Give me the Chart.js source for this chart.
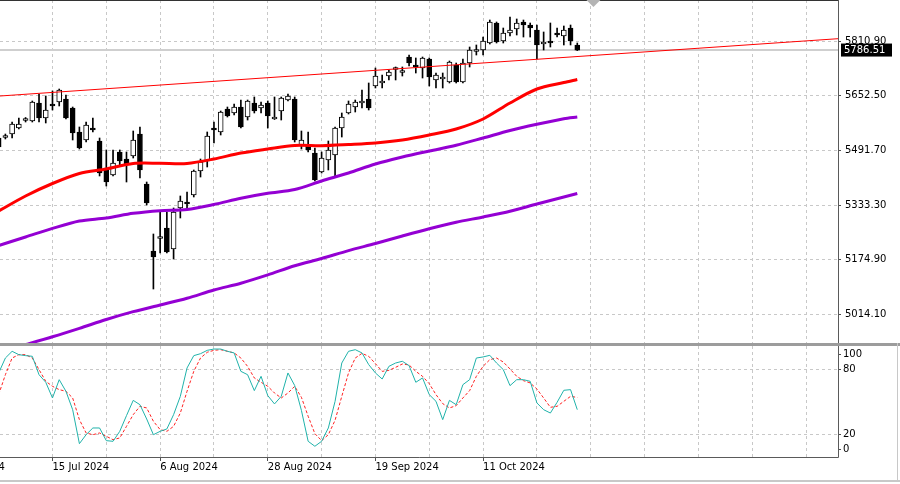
<!DOCTYPE html>
<html>
<head>
<meta charset="utf-8">
<title>US500 Daily</title>
<script src="https://cdn.jsdelivr.net/npm/chart.js@4.4.1/dist/chart.umd.min.js"></script>
<style>
  html, body { margin: 0; padding: 0; background: #fff; }
  body { width: 900px; height: 484px; position: relative; overflow: hidden; }
  #main { position: absolute; left: 0; top: 0; }
  #sep { position: absolute; left: 0; top: 343px; width: 900px; height: 3px; background: #9c9c9c; }
  #stoch { position: absolute; left: 0; top: 346px; }
  #winBottom { position: absolute; left: 0; top: 480px; width: 900px; height: 2px; background: #c8c8c8; }
  #winRight { position: absolute; left: 897px; top: 343px; width: 1px; height: 139px; background: #c8c8c8; }
</style>
</head>
<body>
<canvas id="main" width="900" height="343"></canvas>
<div id="sep"></div>
<canvas id="stoch" width="900" height="138"></canvas>
<div id="winBottom"></div>
<div id="winRight"></div>

<script>
// daily bars, first visible bar is index -1 (15 Jul 2024 = bar 7)
const firstBar = -1

const opens = [5529.4, 5530.9, 5541.1, 5558.7, 5580.6, 5579.1, 5631.7, 5587.9, 5628.8, 5634.7,
  5643.4, 5617.1, 5547.0, 5523.6, 5558.7, 5520.6, 5441.7, 5421.3, 5488.5, 5468.0,
  5476.8, 5541.1, 5395.0, 5199.1, 5235.7, 5266.4, 5204.9, 5324.8, 5342.4, 5362.8,
  5433.0, 5462.2, 5558.7, 5547.0, 5614.2, 5602.5, 5620.0, 5590.8, 5631.7, 5617.1,
  5631.7, 5585.0, 5608.3, 5640.5, 5643.4, 5506.0, 5508.9, 5485.6, 5430.0, 5465.1,
  5479.7, 5558.7, 5602.5, 5620.0, 5631.7, 5643.4, 5681.4, 5690.2, 5710.6, 5729.6,
  5720.9, 5766.2, 5742.8, 5734.0, 5760.3, 5699.0, 5701.9, 5693.1, 5742.8, 5693.1,
  5748.6, 5782.3, 5786.7, 5807.1, 5865.6, 5812.9, 5836.3, 5848.0, 5868.5, 5859.7,
  5845.1, 5804.2, 5812.9, 5836.3, 5827.6, 5851.0, 5801.3]
const highs = [5538.2, 5541.1, 5576.2, 5587.9, 5589.3, 5637.6, 5658.0, 5652.2, 5666.8, 5672.6,
  5655.1, 5620.0, 5561.6, 5576.2, 5587.9, 5529.4, 5494.4, 5494.4, 5494.4, 5488.5,
  5549.9, 5561.6, 5400.8, 5248.8, 5313.1, 5313.1, 5324.8, 5359.9, 5371.6, 5435.9,
  5468.0, 5547.0, 5576.2, 5608.3, 5620.0, 5628.8, 5640.5, 5640.5, 5649.3, 5634.7,
  5637.6, 5649.3, 5649.3, 5658.0, 5649.3, 5549.9, 5547.0, 5500.2, 5488.5, 5520.6,
  5561.6, 5602.5, 5637.6, 5640.5, 5669.7, 5690.2, 5734.0, 5713.6, 5728.2, 5737.0,
  5737.0, 5772.0, 5763.3, 5766.2, 5763.3, 5719.4, 5719.4, 5754.5, 5748.6, 5760.3,
  5795.4, 5801.3, 5824.6, 5874.3, 5868.5, 5850.9, 5883.1, 5877.3, 5874.3, 5865.6,
  5859.7, 5839.3, 5865.6, 5850.9, 5856.8, 5859.7, 5807.1]
const lows = [5497.3, 5526.5, 5529.4, 5556.0, 5576.2, 5576.2, 5576.2, 5573.3, 5611.3, 5623.0,
  5585.0, 5523.6, 5497.3, 5517.7, 5547.0, 5418.4, 5389.1, 5418.4, 5450.5, 5400.8,
  5470.9, 5412.5, 5333.6, 5088.0, 5193.3, 5193.3, 5175.7, 5295.6, 5321.9, 5357.0,
  5415.4, 5444.7, 5514.8, 5538.2, 5590.8, 5596.7, 5558.7, 5582.0, 5602.5, 5602.5,
  5558.7, 5583.5, 5582.0, 5637.6, 5517.7, 5497.3, 5488.5, 5403.7, 5427.1, 5435.9,
  5415.4, 5532.3, 5599.6, 5605.4, 5617.1, 5611.3, 5675.6, 5675.6, 5699.0, 5699.0,
  5710.6, 5739.9, 5719.4, 5704.8, 5681.4, 5675.6, 5675.6, 5690.2, 5690.2, 5690.2,
  5737.0, 5772.0, 5772.0, 5804.2, 5807.1, 5807.1, 5827.6, 5830.5, 5824.6, 5824.6,
  5760.3, 5786.7, 5795.4, 5824.6, 5801.3, 5801.3, 5785.0]
const closes = [5503.1, 5535.3, 5570.3, 5570.3, 5583.5, 5634.7, 5587.9, 5611.3, 5623.0, 5669.7,
  5587.9, 5544.0, 5500.2, 5567.4, 5552.8, 5427.1, 5400.8, 5456.4, 5462.2, 5450.5,
  5523.6, 5435.9, 5339.4, 5181.6, 5238.6, 5196.2, 5313.1, 5345.3, 5336.5, 5433.0,
  5459.3, 5535.3, 5552.8, 5605.4, 5593.7, 5620.0, 5561.6, 5637.6, 5608.3, 5625.9,
  5593.7, 5590.8, 5646.3, 5652.2, 5523.6, 5523.6, 5494.4, 5406.7, 5470.9, 5494.4,
  5558.7, 5590.8, 5628.8, 5634.7, 5634.7, 5617.1, 5710.6, 5696.0, 5722.3, 5732.6,
  5723.8, 5748.6, 5737.0, 5763.3, 5707.7, 5713.6, 5704.8, 5751.6, 5693.1, 5748.6,
  5786.7, 5785.2, 5812.9, 5868.5, 5810.0, 5836.3, 5845.1, 5865.6, 5859.7, 5851.0,
  5801.3, 5810.0, 5807.1, 5830.5, 5845.1, 5812.9, 5786.51]

// moving averages, read every 4 bars
const maBars = [-1, 3, 7, 11, 15, 19, 23, 27, 31, 35, 39, 43, 47, 51, 55, 59, 63, 67, 71, 75, 79, 83, 85]
const maRed = [5316.0, 5359.9, 5396.4, 5425.7, 5438.8, 5454.9, 5455.5, 5454.9, 5468.0, 5485.6, 5497.3, 5507.5,
  5506.9, 5510.4, 5514.8, 5523.6, 5538.2, 5555.7, 5585.0, 5631.7, 5672.7, 5691.6, 5700.4]
const maViolet = [5215.2, 5240.0, 5265.2, 5286.8, 5295.6, 5309.3, 5317.0, 5320.4, 5335.0, 5353.2, 5367.8, 5378.9,
  5403.7, 5427.1, 5453.4, 5473.9, 5491.4, 5508.1, 5529.4, 5551.3, 5569.5, 5585.8, 5590.8]
const maViolet2 = [4903.9, 4925.8, 4948.3, 4972.9, 4998.9, 5021.9, 5041.3, 5060.9, 5085.1, 5105.0, 5129.2, 5155.9,
  5177.2, 5200.3, 5221.0, 5242.9, 5264.0, 5283.0, 5298.5, 5315.2, 5336.5, 5357.0, 5367.2]

// trend line
const trendBars = [-1, 124]
const trendValues = [5651.9, 5820.0]

// stochastic
const stochMain = [76.6, 90.4, 96.6, 93.5, 92.6, 92.0, 75.0, 68.0, 53.5, 70.4,
  59.7, 42.7, 11.3, 19.6, 25.8, 25.8, 14.1, 13.5, 22.7, 37.2,
  51.3, 47.3, 34.1, 19.6, 22.7, 24.9, 38.1, 55.0, 81.2, 92.6,
  94.4, 97.5, 98.7, 98.7, 96.6, 95.1, 78.1, 75.0, 60.3, 73.5,
  55.7, 48.0, 55.0, 76.6, 65.0, 42.0, 13.5, 8.9, 13.5, 25.8,
  50.4, 85.8, 96.6, 98.1, 95.1, 84.3, 76.6, 71.0, 82.7, 85.8,
  87.4, 83.4, 68.0, 72.0, 56.6, 50.4, 33.5, 51.3, 47.3, 65.8,
  70.4, 90.4, 91.4, 92.9, 85.8, 79.7, 64.9, 70.4, 70.4, 68.9,
  48.9, 42.7, 39.6, 49.5, 60.6, 61.2, 42.7]
const stochSignal = [56.6, 75.0, 90.4, 93.5, 93.5, 90.4, 79.7, 68.9, 64.3, 61.2,
  59.7, 53.5, 33.5, 21.2, 19.6, 21.2, 18.1, 15.0, 16.6, 27.3,
  38.1, 45.8, 44.3, 32.0, 24.3, 22.7, 27.3, 39.6, 59.7, 78.1,
  90.4, 95.7, 97.5, 98.1, 96.6, 95.1, 90.4, 82.7, 72.0, 68.0,
  64.3, 58.1, 53.5, 58.1, 64.3, 54.1, 36.6, 20.6, 14.1, 19.6,
  32.9, 55.0, 76.6, 90.4, 94.7, 92.0, 85.2, 78.1, 79.0, 81.8,
  84.9, 84.0, 78.1, 73.5, 66.7, 56.6, 48.3, 44.3, 46.4, 53.5,
  60.3, 73.5, 82.7, 88.9, 90.4, 86.7, 80.3, 73.5, 69.5, 67.4,
  61.8, 53.5, 44.9, 45.8, 50.4, 55.0, 54.0]

// axis labels
const priceTicks = [5810.90, 5652.50, 5491.70, 5333.30, 5174.90, 5014.10]
const stochLevels = [100, 80, 20, 0]
const xTickBars = [-9, 7, 23, 39, 55, 71]
const xTickLabels = ['21 Jun 2024', '15 Jul 2024', '6 Aug 2024', '28 Aug 2024', '19 Sep 2024', '11 Oct 2024']

// visible window
const barMin = -0.8
const barMax = 123.75
const priceMin = 4930.2
const priceMax = 5932.8
const stochMin = -1.0
const stochMax = 101.5

const bars = closes.map((c, i) => firstBar + i)
const lastClose = closes[closes.length - 1]

const wicks = bars.map((b, i) => ({ x: b, y: [lows[i], highs[i]] }))
const upBodies = []
const downBodies = []
bars.forEach((b, i) => {
    const body = { x: b, y: [Math.min(opens[i], closes[i]), Math.max(opens[i], closes[i])] }
    if (closes[i] >= opens[i]) upBodies.push(body)
    else downBodies.push(body)
})

const gridBars = []
for (let b = 7; b <= barMax; b += 8) gridBars.push(b)

const font = { family: 'DejaVu Sans', size: 10 }
const gridColor = '#c8c8c8'
const frameColor = '#5a5a5a'

const line = (xs, ys, color, width, extra) => Object.assign({
    type: 'line',
    data: xs.map((x, i) => ({ x: x, y: ys[i] })),
    borderColor: color,
    borderWidth: width,
    pointRadius: 0,
    fill: false
}, extra || {})

const mainFrame = {
    id: 'mainFrame',
    afterDraw(chart) {
        const { ctx, chartArea: a, scales } = chart
        ctx.save()
        ctx.strokeStyle = '#333'
        ctx.lineWidth = 1
        ctx.beginPath()
        ctx.moveTo(0, 0.5); ctx.lineTo(a.right, 0.5)
        ctx.stroke()
        ctx.strokeStyle = frameColor
        ctx.beginPath()
        ctx.moveTo(a.right + 0.5, 0); ctx.lineTo(a.right + 0.5, a.bottom)
        ctx.stroke()

        // shift marker
        const sx = scales.x.getPixelForValue(87.4)
        ctx.fillStyle = '#b4b4b4'
        ctx.beginPath()
        ctx.moveTo(sx - 7, 0); ctx.lineTo(sx + 7, 0); ctx.lineTo(sx, 7)
        ctx.closePath()
        ctx.fill()

        // current price box
        const py = scales.y.getPixelForValue(lastClose)
        ctx.fillStyle = '#000'
        ctx.fillRect(a.right + 3, py - 6.5, 51, 13)
        ctx.fillStyle = '#fff'
        ctx.font = '10px "DejaVu Sans"'
        ctx.textAlign = 'left'
        ctx.textBaseline = 'middle'
        ctx.fillText(lastClose.toFixed(2), a.right + 6, py + 0.5)
        ctx.restore()
    }
}

new Chart(document.getElementById('main'), {
    type: 'bar',
    data: {
        datasets: [
            line([barMin, barMax], [lastClose, lastClose], '#cfcfcf', 2, { order: 6 }),
            { data: wicks, backgroundColor: '#000', barThickness: 1, grouped: false, order: 5 },
            { data: upBodies, backgroundColor: '#fff', borderColor: '#000', borderWidth: 1, borderSkipped: false,
              barThickness: 5, minBarLength: 2, grouped: false, order: 4 },
            { data: downBodies, backgroundColor: '#000', borderColor: '#000', borderWidth: 1, borderSkipped: false,
              barThickness: 5, minBarLength: 2, grouped: false, order: 4 },
            line(maBars, maViolet2, '#9400d3', 3, { tension: 0.3, order: 3 }),
            line(maBars, maViolet, '#9400d3', 3, { tension: 0.3, order: 2 }),
            line(maBars, maRed, '#ff0000', 3, { tension: 0.3, order: 1 }),
            line(trendBars, trendValues, '#ff0000', 1, { order: 0 })
        ]
    },
    options: {
        responsive: false,
        animation: false,
        devicePixelRatio: 1,
        layout: { padding: 0 },
        plugins: { legend: { display: false }, tooltip: { enabled: false } },
        scales: {
            x: {
                type: 'linear', min: barMin, max: barMax, offset: false,
                afterBuildTicks: s => { s.ticks = gridBars.map(v => ({ value: v })) },
                afterFit: s => { s.height = 0; s.paddingLeft = 0; s.paddingRight = 0 },
                ticks: { display: false },
                grid: { color: gridColor, drawTicks: false, offset: false },
                border: { display: false, dash: [3, 3] }
            },
            y: {
                position: 'right', min: priceMin, max: priceMax,
                afterBuildTicks: s => { s.ticks = priceTicks.map(v => ({ value: v })) },
                afterFit: s => { s.width = 62; s.paddingTop = 0; s.paddingBottom = 0 },
                ticks: { font: font, color: '#000', padding: 4, autoSkip: false, callback: v => v.toFixed(2) },
                grid: { color: gridColor, tickLength: 3, tickColor: '#505050' },
                border: { display: false, dash: [3, 3] }
            }
        }
    },
    plugins: [mainFrame]
})

const stochFrame = {
    id: 'stochFrame',
    afterDraw(chart) {
        const { ctx, chartArea: a, scales } = chart
        ctx.save()
        ctx.strokeStyle = frameColor
        ctx.lineWidth = 1
        ctx.beginPath()
        ctx.moveTo(a.right + 0.5, 0); ctx.lineTo(a.right + 0.5, a.bottom + 0.5)
        ctx.lineTo(0, a.bottom + 0.5)
        ctx.stroke()

        // date label of the bar left of the window, cut by the edge
        ctx.fillStyle = '#000'
        ctx.font = '10px "DejaVu Sans"'
        ctx.textAlign = 'left'
        ctx.textBaseline = 'middle'
        ctx.fillText(xTickLabels[0], scales.x.getPixelForValue(xTickBars[0]), a.bottom + 10)
        ctx.restore()
    }
}

new Chart(document.getElementById('stoch'), {
    type: 'line',
    data: {
        datasets: [
            line(bars, stochMain, '#20b2aa', 1),
            line(bars, stochSignal, '#ff2020', 1, { borderDash: [3, 2] })
        ]
    },
    options: {
        responsive: false,
        animation: false,
        devicePixelRatio: 1,
        layout: { padding: 0 },
        plugins: { legend: { display: false }, tooltip: { enabled: false } },
        scales: {
            x: {
                type: 'linear', min: barMin, max: barMax, offset: false,
                afterBuildTicks: s => { s.ticks = gridBars.map(v => ({ value: v })) },
                afterFit: s => { s.height = 27; s.paddingLeft = 0; s.paddingRight = 0 },
                ticks: {
                    font: font, color: '#000', padding: 0, align: 'start', maxRotation: 0, autoSkip: false,
                    callback: v => { const i = xTickBars.indexOf(v); return i < 0 ? '' : xTickLabels[i] }
                },
                grid: {
                    color: gridColor, tickLength: 4, offset: false,
                    tickColor: c => xTickBars.includes(c.tick && c.tick.value) ? '#505050' : 'rgba(0,0,0,0)'
                },
                border: { display: false, dash: [3, 3] }
            },
            y: {
                position: 'right', min: stochMin, max: stochMax,
                // top and bottom labels sit just inside the window like the terminal draws them
                afterBuildTicks: s => { s.ticks = stochLevels.map(v => ({ value: Math.min(Math.max(v, 6), 94) })) },
                afterFit: s => { s.width = 62; s.paddingTop = 0; s.paddingBottom = 0 },
                ticks: { font: font, color: '#000', padding: 2, autoSkip: false, callback: (v, i) => String(stochLevels[i]) },
                grid: {
                    color: c => (c.index === 1 || c.index === 2) ? gridColor : 'rgba(0,0,0,0)',
                    tickLength: 3, tickColor: '#505050'
                },
                border: { display: false, dash: [3, 3] }
            }
        }
    },
    plugins: [stochFrame]
})
</script>
</body>
</html>
